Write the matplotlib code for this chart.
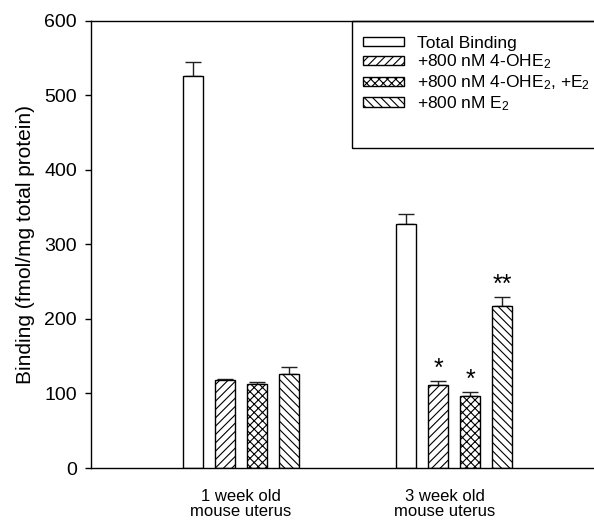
import matplotlib
matplotlib.use("Agg")
import matplotlib.pyplot as plt
from matplotlib.patches import Rectangle
import numpy as np

plt.rcParams['font.family'] = ['Liberation Sans', 'DejaVu Sans']
plt.rcParams['mathtext.fontset'] = 'custom'
plt.rcParams['mathtext.rm'] = 'Liberation Sans'
plt.rcParams['mathtext.it'] = 'Liberation Sans'
plt.rcParams['hatch.linewidth'] = 0.8

# data
groups = ["1 week old\nmouse uterus", "3 week old\nmouse uterus"]
series = ["Total Binding", "+800 nM 4-OHE$_2$", "+800 nM 4-OHE$_2$, +E$_2$", "+800 nM E$_2$"]
values = [[526, 118, 112, 126],
          [327, 111, 96, 217]]
errors = [[18, 1, 3, 9],
          [14, 6, 6, 12]]
stars = [["", "", "", ""],
         ["", "*", "*", "**"]]
hatches = ["", "////", "xxxx", "\\\\\\\\"]

group_start = [0.0, 6.67]
label_pos = [1.5, 7.875]
width = 0.625

fig = plt.figure(figsize=(5.94, 5.22), dpi=100)
ax = fig.add_axes([0.1532, 0.1034, 0.8468, 0.8573])

for s in range(len(series)):
    xs = [group_start[g] + s for g in range(len(groups))]
    ys = [values[g][s] for g in range(len(groups))]
    es = [errors[g][s] for g in range(len(groups))]
    ax.bar(xs, ys, width=width, color='white', edgecolor='black', linewidth=1.0,
           hatch=hatches[s], label=series[s], zorder=2)
    ax.errorbar(xs, ys, yerr=[np.zeros(len(es)), es], fmt='none', ecolor='#222222',
                elinewidth=1.0, capsize=6, capthick=1.0, zorder=1)
    for g in range(len(groups)):
        if stars[g][s]:
            ax.annotate(stars[g][s], xy=(xs[g], ys[g] + es[g]), xytext=(0, 0),
                        textcoords='offset points', ha='center', va='bottom', fontsize=18)

ax.set_xlim(-3.19, 12.53)
ax.set_ylim(0, 600)
ax.set_yticks(np.arange(0, 601, 100))
ax.tick_params(axis='y', direction='out', length=4, width=1, labelsize=14, pad=6)
ax.set_xticks(label_pos)
ax.set_xticklabels(groups, fontsize=12, linespacing=1.0)
ax.tick_params(axis='x', length=0, pad=15)
ax.set_ylabel("Binding (fmol/mg total protein)", fontsize=15, labelpad=7)

ax.spines['right'].set_visible(False)
for sp in ['left', 'top', 'bottom']:
    ax.spines[sp].set_linewidth(1.0)

leg = ax.legend(loc='upper left', bbox_to_anchor=(354 / 594, 1 - 27 / 522),
                bbox_transform=fig.transFigure, fontsize=12.5, frameon=False,
                handlelength=2.4, handleheight=0.45, labelspacing=0.12,
                borderpad=0, borderaxespad=0.5, handletextpad=0.75)

# legend frame (runs off the right edge, as in the source figure)
fig.patches.append(Rectangle((352 / 594, 1 - 148 / 522), 260 / 594, 127 / 522,
                             transform=fig.transFigure, fill=False, edgecolor='black',
                             linewidth=1.0))

fig.savefig("out.png", dpi=100)
